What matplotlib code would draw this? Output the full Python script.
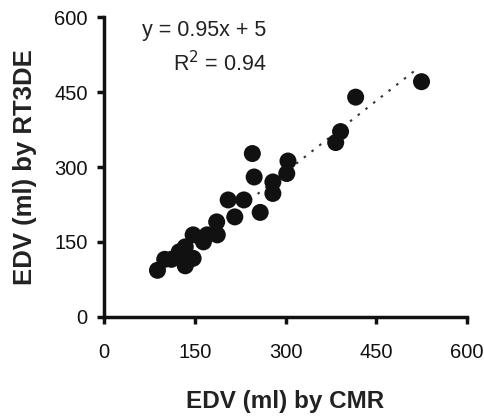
import matplotlib
matplotlib.use("Agg")
import matplotlib.pyplot as plt
import numpy as np

plt.rcParams['font.family'] = ['Liberation Sans', 'DejaVu Sans']

cmr = [88, 100, 111, 124, 134, 136, 134, 147, 147, 164, 170, 186, 187,
       216, 205, 231, 258, 248, 245, 279, 279, 302, 304, 383, 391, 416, 525]
rt3de = [93, 115, 115, 130, 140, 120, 102, 117, 164, 150, 164, 190, 164,
         200, 234, 234, 209, 280, 327, 270, 247, 287, 312, 349, 371, 440, 471]
slope, intercept = 0.95, 5
ticks = [0, 150, 300, 450, 600]

fig = plt.figure(figsize=(4.84, 4.17), dpi=100)
ax = fig.add_axes([0.2155, 0.2405, 0.749, 0.718])

ax.scatter(cmr, rt3de, s=150, color='#111111', edgecolors='none', zorder=3)
xl = np.array([min(cmr), 520])
ax.plot(xl, slope * xl + intercept, linestyle=(0, (1.2, 3.5)), color='#333333', lw=1.5, zorder=2)

ax.set_xlim(0, 600)
ax.set_ylim(0, 600)
ax.set_xticks(ticks)
ax.set_yticks(ticks)
for s in ['top', 'right']:
    ax.spines[s].set_visible(False)
for s in ['left', 'bottom']:
    ax.spines[s].set_linewidth(2.5)
    ax.spines[s].set_color('#111111')
ax.tick_params(direction='out', length=5, width=2.5, colors='#111111', labelsize=14.5, pad=7)
ax.tick_params(axis='x', pad=14)

ax.set_xlabel('EDV (ml) by CMR', fontsize=17.5, fontweight='bold', labelpad=20, color='#222222')
ax.set_ylabel('EDV (ml) by RT3DE', fontsize=18.5, fontweight='bold', labelpad=12, color='#222222')

ax.text(268, 574, 'y = 0.95x + 5', fontsize=15.5, ha='right', va='center', color='#222222')
ax.text(268, 508, 'R$^2$ = 0.94', fontsize=15.5, ha='right', va='center', color='#222222')

fig.savefig('out.png', dpi=100)
